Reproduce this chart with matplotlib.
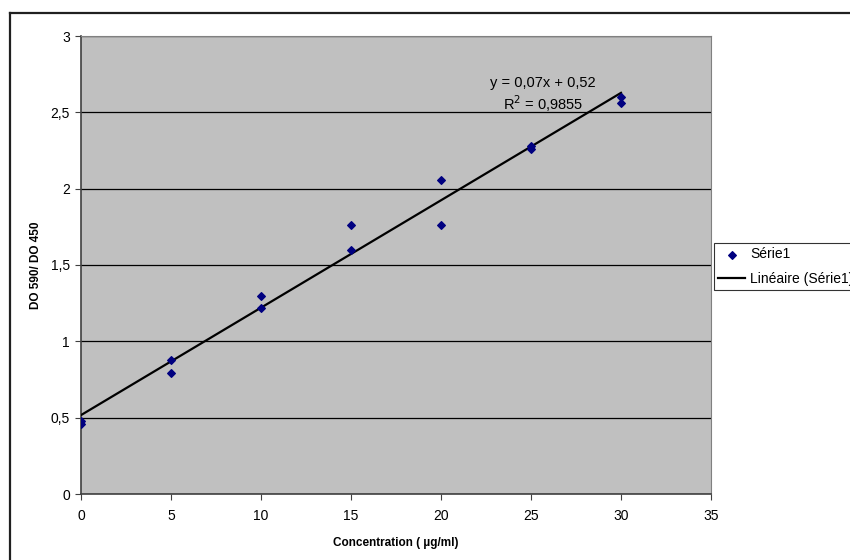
import numpy as np
import matplotlib
matplotlib.use('Agg')
from matplotlib import pyplot as plt
from matplotlib.lines import Line2D

plt.rcParams['font.family'] = ['Liberation Sans', 'DejaVu Sans']

# data
conc = [0, 0, 5, 5, 10, 10, 15, 15, 20, 20, 25, 25, 30, 30]
do_ratio = [0.48, 0.46, 0.88, 0.79, 1.30, 1.22, 1.76, 1.60, 2.06, 1.76, 2.28, 2.26, 2.60, 2.56]
x_ticks = [0, 5, 10, 15, 20, 25, 30, 35]
y_ticks = [0, 0.5, 1, 1.5, 2, 2.5, 3]
y_tick_labels = ['0', '0,5', '1', '1,5', '2', '2,5', '3']

fig = plt.figure(figsize=(8.5, 5.6), dpi=100)
ax = fig.add_axes([81 / 850, 1 - 494 / 560, 630 / 850, 458 / 560])
ax.set_facecolor('#C0C0C0')

# linear fit
slope, intercept = np.polyfit(conc, do_ratio, 1)
xfit = np.array([0, 30])
ax.plot(xfit, slope * xfit + intercept, color='black', lw=1.6, zorder=3,
        label='Linéaire (Série1)')
ax.scatter(conc, do_ratio, marker='D', s=15, color='#000080', zorder=4, label='Série1')

ax.set_xlim(0, 35)
ax.set_ylim(0, 3)
ax.set_xticks(x_ticks)
ax.set_yticks(y_ticks)
ax.set_yticklabels(y_tick_labels)
ax.yaxis.grid(True, color='black', lw=0.9)
ax.set_axisbelow(True)
ax.tick_params(labelsize=10, length=4, color='#404040', direction='out', pad=4)
ax.tick_params(axis='x', pad=7)
for s in ['left', 'bottom']:
    ax.spines[s].set_color('#404040')
    ax.spines[s].set_linewidth(1.2)
for s in ['top', 'right']:
    ax.spines[s].set_color('#808080')
    ax.spines[s].set_linewidth(0.8)

ax.set_xlabel('Concentration ( µg/ml)', fontsize=8.5, fontweight='bold', labelpad=10)
ax.set_ylabel('DO 590/ DO 450', fontsize=8.5, fontweight='bold', labelpad=6)

ax.text(25.67, 2.69, 'y = 0,07x + 0,52', fontsize=10.5, ha='center', va='center')
ax.text(25.67, 2.56, r'R$^2$ = 0,9855', fontsize=10.5, ha='center', va='center')

handles, labels = ax.get_legend_handles_labels()
leg = fig.legend(handles[::-1], labels[::-1], loc='upper left',
                 bbox_to_anchor=(714 / 850, 1 - 243 / 560), fontsize=10,
                 frameon=True, fancybox=False, edgecolor='black',
                 handlelength=1.95, borderpad=0.3, labelspacing=0.8,
                 handletextpad=0.35, borderaxespad=0)
leg.get_frame().set_linewidth(0.8)

# chart area border (only top and left visible in the crop)
fig.add_artist(Line2D([10 / 850, 10 / 850], [0, 1 - 13 / 560], transform=fig.transFigure,
                      color='#202020', lw=1.6))
fig.add_artist(Line2D([10 / 850, 1], [1 - 13 / 560, 1 - 13 / 560], transform=fig.transFigure,
                      color='#202020', lw=1.6))

fig.savefig('out.png', dpi=100)
